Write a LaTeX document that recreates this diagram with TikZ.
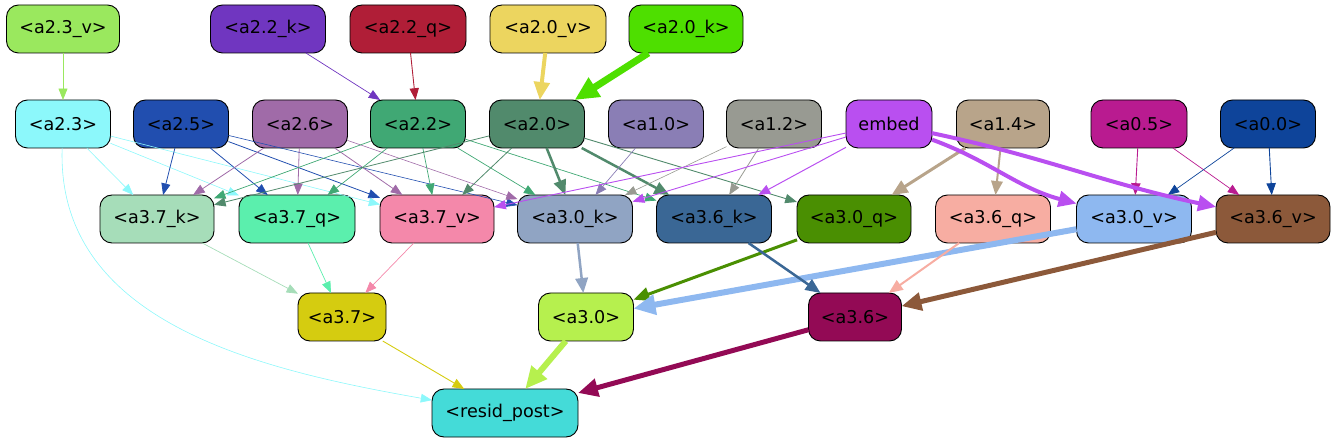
\documentclass[tikz,border=0pt]{standalone}
\usepackage{fontspec}
\setmainfont{DejaVu Sans}
\usetikzlibrary{arrows.meta}
\definecolor{c23v}{HTML}{9AE85E}
\definecolor{c22k}{HTML}{7036C0}
\definecolor{c22q}{HTML}{B01E37}
\definecolor{c20v}{HTML}{ECD55F}
\definecolor{c20k}{HTML}{4EDF00}
\definecolor{c23} {HTML}{8CF8FB}
\definecolor{c25} {HTML}{214EAF}
\definecolor{c26} {HTML}{A06BA8}
\definecolor{c22} {HTML}{40A874}
\definecolor{c20} {HTML}{518A6C}
\definecolor{c10} {HTML}{8A7EB5}
\definecolor{c12} {HTML}{989A92}
\definecolor{cemb}{HTML}{B94FF0}
\definecolor{c14} {HTML}{B8A48A}
\definecolor{c05} {HTML}{B91B90}
\definecolor{c00} {HTML}{0E449A}
\definecolor{c37k}{HTML}{A6DDB9}
\definecolor{c37q}{HTML}{5BEFAD}
\definecolor{c37v}{HTML}{F488AA}
\definecolor{c30k}{HTML}{90A4C3}
\definecolor{c36k}{HTML}{3A6795}
\definecolor{c30q}{HTML}{4A8F02}
\definecolor{c36q}{HTML}{F7ADA2}
\definecolor{c30v}{HTML}{8EB8F0}
\definecolor{c36v}{HTML}{8C593A}
\definecolor{c37} {HTML}{D5CC10}
\definecolor{c30} {HTML}{B6F04E}
\definecolor{c36} {HTML}{930A55}
\definecolor{cres}{HTML}{44DBD8}

\begin{document}
\begin{tikzpicture}[x=1pt, y=-1pt,
    plbox/.style={draw=black, line width=0.9pt, rounded corners=12pt,
      minimum height=48pt, inner sep=0pt, outer sep=0pt,
      font=\fontsize{17.6}{20}\selectfont},
    pledge/.style={-{Triangle[length=10pt 2, width=7.5pt 2]}}]
  \useasboundingbox (0,0) rectangle (1336,443);
  % inputs
  \foreach \n/\x/\y/\w/\c/\t in {
      a23v/63/29/113/c23v/{<a2.3\_v>}, a22k/268/29/115/c22k/{<a2.2\_k>},
      a22q/408/29/116/c22q/{<a2.2\_q>}, a20v/548/29/116/c20v/{<a2.0\_v>},
      a20k/686/29/114/c20k/{<a2.0\_k>},
      a23/63/124/95/c23/{<a2.3>}, a25/181/124/95/c25/{<a2.5>},
      a26/300/124/95/c26/{<a2.6>}, a22/418/124/95/c22/{<a2.2>},
      a20/537/124/95/c20/{<a2.0>}, a10/656/124/95/c10/{<a1.0>},
      a12/774/124/95/c12/{<a1.2>}, emb/889/124/86/cemb/{embed},
      a14/1003/124/93/c14/{<a1.4>}, a05/1139/124/96/c05/{<a0.5>},
      a00/1268/124/95/c00/{<a0.0>},
      a37k/157/219/114/c37k/{<a3.7\_k>}, a37q/297/219/116/c37q/{<a3.7\_q>},
      a37v/437/219/114/c37v/{<a3.7\_v>}, a30k/575/219/115/c30k/{<a3.0\_k>},
      a36k/714/219/115/c36k/{<a3.6\_k>}, a30q/854/219/114/c30q/{<a3.0\_q>},
      a36q/993/219/115/c36q/{<a3.6\_q>}, a30v/1134/219/115/c30v/{<a3.0\_v>},
      a36v/1273/219/114/c36v/{<a3.6\_v>},
      a37/342/317/88/c37/{<a3.7>}, a30/586/317/95/c30/{<a3.0>},
      a36/855/317/93/c36/{<a3.6>},
      res/505/413/146/cres/{<resid\_post>}}
    {\node[plbox, fill=\c, minimum width=\w pt] (\n) at (\x,\y) {\t};}
  % edges
  \foreach \s/\d/\c/\w in {
      a23v/a23/c23v/0.7, a22k/a22/c22k/0.7, a22q/a22/c22q/0.9,
      a20v/a20/c20v/4, a20k/a20/c20k/7,
      a23/a37k/c23/0.6, a23/a37q/c23/0.6, a23/a37v/c23/0.6,
      a25/a37k/c25/0.8, a25/a37q/c25/0.8, a25/a37v/c25/0.8, a25/a30k/c25/0.6,
      a26/a37k/c26/0.8, a26/a37q/c26/0.8, a26/a37v/c26/0.8, a26/a30k/c26/0.6,
      a22/a37k/c22/0.7, a22/a37q/c22/0.7, a22/a37v/c22/0.7,
      a22/a30k/c22/0.7, a22/a36k/c22/0.7,
      a20/a37k/c20/0.8, a20/a37v/c20/0.8, a20/a30k/c20/2.5,
      a20/a36k/c20/2.5, a20/a30q/c20/0.9,
      a10/a30k/c10/0.7, a12/a30k/c12/0.6, a12/a36k/c12/0.8,
      emb/a37v/cemb/0.9, emb/a30k/cemb/0.9, emb/a36k/cemb/1.0,
      a14/a30q/c14/3, a14/a36q/c14/2,
      a05/a30v/c05/0.9, a05/a36v/c05/0.7, a00/a30v/c00/0.7, a00/a36v/c00/0.9,
      a37k/a37/c37k/0.7, a37q/a37/c37q/0.7, a37v/a37/c37v/0.7,
      a30k/a30/c30k/2.5, a30q/a30/c30q/3, a30v/a30/c30v/6,
      a36k/a36/c36k/2.5, a36q/a36/c36q/2, a36v/a36/c36v/5,
      a37/res/c37/0.9, a30/res/c30/6, a36/res/c36/5}
    {\draw[pledge, \c, line width=\w pt] (\s) -- (\d);}
  \draw[pledge, cemb, line width=4pt] (emb) to[out=-20, in=165] (a30v);
  \draw[pledge, cemb, line width=4pt] (emb) to[out=-12, in=168] (a36v);
  \draw[pledge, c23, line width=0.6pt] (a23) to[out=-92, in=170] (res);
\end{tikzpicture}
\end{document}
